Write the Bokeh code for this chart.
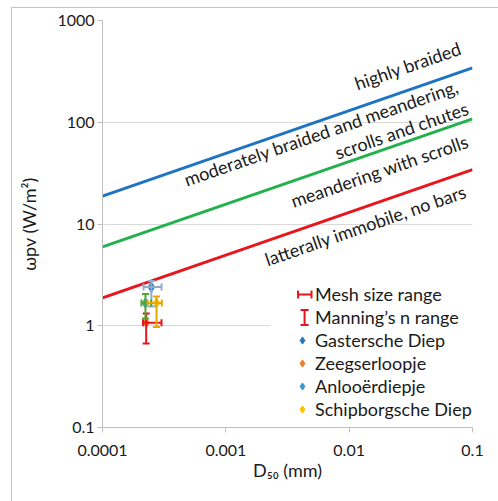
from bokeh.plotting import figure
from bokeh.models import (Range1d, FixedTicker, Whisker, TeeHead, Legend, LegendItem,
                          ColumnDataSource, Label, Arrow, BoxAnnotation)
from bokeh.embed import file_html
from bokeh.resources import INLINE

# ---------------- data ----------------
d50_ends = [0.0001, 0.1]                 # mm
highly_braided = [18.8, 342.0]           # W/m2
moderately_braided = [5.95, 108.0]
latterally_immobile = [1.88, 34.2]

x_ticks = [0.0001, 0.001, 0.01, 0.1]
x_tick_labels = ["0.0001", "0.001", "0.01", "0.1"]
y_ticks = [0.1, 1.0, 10.0, 100.0, 1000.0]
y_tick_labels = ["0.1", "1", "10", "100", "1000"]

rivers = ["Gastersche Diep", "Zeegserloopje", "Anlooërdiepje", "Schipborgsche Diep"]
river_d50 = [0.000249, 0.000226, 0.000223, 0.000274]
river_wpv = [2.40, 1.07, 1.67, 1.67]
d50_low = [0.000215, 0.000213, 0.000207, 0.000232]
d50_high = [0.000301, 0.000301, 0.000248, 0.000303]
wpv_low = [1.55, 0.67, 1.18, 0.97]
wpv_high = [2.75, 1.32, 2.05, 1.94]

marker_colors = ["#1F7BC1", "#ED7D31", "#2A9FD8", "#FFC000"]
bar_colors = ["#90AACB", "#E8141B", "#4EA72E", "#E6A700"]

FONT = "Lato"
TXT = "#1a1a1a"

# ---------------- figure ----------------
p = figure(width=486, height=493, x_axis_type="log", y_axis_type="log",
           x_range=Range1d(0.0001, 0.1), y_range=Range1d(0.1, 1000),
           output_backend="svg", toolbar_location=None,
           min_border_left=90, min_border_right=26, min_border_top=12, min_border_bottom=74,
           frame_width=370, frame_height=407)
p.margin = (7, 0, 0, 11)
p.styles = {"border-left": "1px solid #c4c4c4", "border-top": "1px solid #c4c4c4"}
p.outline_line_color = None
p.background_fill_color = "white"
p.border_fill_color = "white"

p.xgrid.visible = False
p.ygrid.grid_line_color = "#d9d9d9"
p.ygrid.grid_line_width = 1

for ax in (p.xaxis[0], p.yaxis[0]):
    ax.axis_line_color = "#bfbfbf"
    ax.major_tick_line_color = "#bfbfbf"
    ax.major_tick_out = 5
    ax.major_tick_in = 0
    ax.minor_tick_line_color = None
    ax.major_label_text_font = FONT
    ax.major_label_text_font_size = "16px"
    ax.major_label_text_color = TXT
    ax.axis_label_text_font = FONT
    ax.axis_label_text_font_size = "18px"
    ax.axis_label_text_font_style = "normal"
    ax.axis_label_text_color = TXT

p.xaxis.ticker = FixedTicker(ticks=x_ticks, minor_ticks=[])
p.xaxis.major_label_overrides = dict(zip(x_ticks, x_tick_labels))
p.yaxis.ticker = FixedTicker(ticks=y_ticks, minor_ticks=[])
p.yaxis.major_label_overrides = dict(zip(y_ticks, y_tick_labels))
p.xaxis.axis_label = "D₅₀ (mm)"
p.yaxis.axis_label = "ωpv (W/m²)"
p.xaxis.major_label_standoff = 12
p.yaxis.major_label_standoff = 3
p.xaxis.axis_label_standoff = 0
p.yaxis.axis_label_standoff = 14

# threshold lines
p.line(d50_ends, highly_braided, line_color="#1E74C3", line_width=3)
p.line(d50_ends, moderately_braided, line_color="#22B14C", line_width=3)
p.line(d50_ends, latterally_immobile, line_color="#E8161C", line_width=3)

ang = 0.3335
label_specs = [
    ("highly braided", 0.0799, 543.0),
    ("moderately braided and meandering,", 0.0757, 229.6),
    ("scrolls and chutes", 0.0912, 139.7),
    ("meandering with scrolls", 0.0912, 66.2),
    ("latterally immobile, no bars", 0.0879, 21.3),
]
for txt, lx, ly in label_specs:
    p.add_layout(Label(x=lx, y=ly, text=txt, angle=ang, text_align="right",
                       text_baseline="alphabetic", text_font=FONT,
                       text_font_size="18px", text_color=TXT))

# white legend area hiding grid line
p.add_layout(BoxAnnotation(left=0.0023, right=0.1, bottom=0.6, top=1.6,
                           fill_color="white", fill_alpha=1, line_color=None, level="underlay"))

# error bars + points
for i, name in enumerate(rivers):
    src = ColumnDataSource(dict(x=[river_d50[i]], y=[river_wpv[i]],
                                xl=[d50_low[i]], xh=[d50_high[i]],
                                yl=[wpv_low[i]], yh=[wpv_high[i]]))
    c = bar_colors[i]
    p.add_layout(Whisker(source=src, base="y", lower="xl", upper="xh", dimension="width",
                         line_color=c, line_width=2, level="glyph",
                         lower_head=TeeHead(size=7, line_color=c, line_width=2),
                         upper_head=TeeHead(size=7, line_color=c, line_width=2)))
    p.add_layout(Whisker(source=src, base="x", lower="yl", upper="yh", dimension="height",
                         line_color=c, line_width=2, level="glyph",
                         lower_head=TeeHead(size=7, line_color=c, line_width=2),
                         upper_head=TeeHead(size=7, line_color=c, line_width=2)))

point_renderers = []
for i, name in enumerate(rivers):
    src = ColumnDataSource(dict(x=[river_d50[i]], y=[river_wpv[i]]))
    r = p.scatter("x", "y", source=src, marker="diamond", size=10,
                  fill_color=marker_colors[i], line_color=marker_colors[i])
    point_renderers.append(r)

dummy1 = p.line(x=[], y=[], line_alpha=0)
dummy2 = p.line(x=[], y=[], line_alpha=0)

items = [LegendItem(label="Mesh size range", renderers=[dummy1]),
         LegendItem(label="Manning’s n range", renderers=[dummy2])]
for name, r in zip(rivers, point_renderers):
    items.append(LegendItem(label=name, renderers=[r]))

legend = Legend(items=items, location=(191, 7), padding=5, spacing=1, margin=0,
                glyph_width=18, glyph_height=20, label_height=20, label_standoff=4,
                label_text_font=FONT, label_text_font_size="18px", label_text_color=TXT,
                border_line_color=None, background_fill_alpha=0)
p.add_layout(legend)

# legend icons for the ranges
red = "#E8141B"
p.add_layout(Arrow(x_start=0.00385, x_end=0.00495, y_start=2.028, y_end=2.028,
                   line_color=red, line_width=2, level="overlay",
                   start=TeeHead(size=8, line_color=red, line_width=2),
                   end=TeeHead(size=8, line_color=red, line_width=2)))
p.add_layout(Arrow(x_start=0.00435, x_end=0.00435, y_start=1.428, y_end=1.017,
                   line_color=red, line_width=2, level="overlay",
                   start=TeeHead(size=8, line_color=red, line_width=2),
                   end=TeeHead(size=8, line_color=red, line_width=2)))

open("out.html", "w").write(file_html(p, INLINE))
